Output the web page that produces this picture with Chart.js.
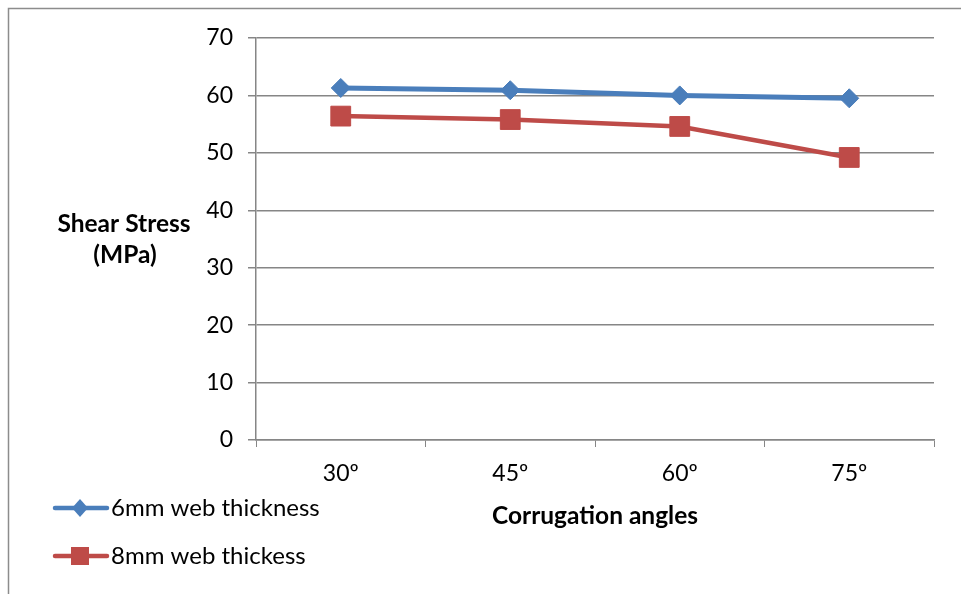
<!DOCTYPE html>
<html>
<head>
<meta charset="utf-8">
<script src="https://cdn.jsdelivr.net/npm/chart.js@4.4.1/dist/chart.umd.min.js"></script>
<style>
  body { margin: 0; background: #fff; }
  canvas { display: block; }
</style>
</head>
<body>
<canvas id="shear_chart" width="961" height="594"></canvas>
<script>
const angles = ["30º", "45º", "60º", "75º"];
const web_6mm = [61.3, 60.9, 60.0, 59.5];
const web_8mm = [56.4, 55.8, 54.6, 49.2];
const series_names = ["6mm web thickness", "8mm web thickess"];
const y_title = ["Shear Stress", "(MPa)"];
const x_title = "Corrugation angles";

const FONT = "Lato";
const GRID = '#868686';

// white background plus the outer frame line
const framePlugin = {
    id: 'frame',
    beforeDraw: (chart) => {
        const {ctx} = chart;
        ctx.save();
        ctx.fillStyle = '#ffffff';
        ctx.fillRect(0, 0, chart.width, chart.height);
        ctx.strokeStyle = '#8c8c8c';
        ctx.lineWidth = 1.5;
        ctx.strokeRect(8.5, 8.5, 1200, 1200);
        ctx.restore();
    }
};

// horizontal y title and stacked legend, like the excel original
const sidePlugin = {
    id: 'sideText',
    afterDraw: (chart) => {
        const {ctx} = chart;
        ctx.save();
        ctx.fillStyle = '#000';
        ctx.textAlign = 'center';
        ctx.textBaseline = 'middle';
        ctx.font = "bold 24.5px " + FONT;
        ctx.fillText(y_title[0], 124, 224);
        ctx.fillText(y_title[1], 125, 255);

        const rows = [508, 556];
        chart.data.datasets.forEach((ds, i) => {
            const y = rows[i];
            ctx.strokeStyle = ds.borderColor;
            ctx.fillStyle = ds.borderColor;
            ctx.lineWidth = 4.5;
            ctx.lineCap = 'round';
            ctx.beginPath();
            ctx.moveTo(55, y);
            ctx.lineTo(107, y);
            ctx.stroke();
            ctx.beginPath();
            if (ds.pointStyle === 'rectRot') {
                ctx.moveTo(80, y - 9);
                ctx.lineTo(88, y);
                ctx.lineTo(80, y + 9);
                ctx.lineTo(72, y);
                ctx.closePath();
            } else {
                ctx.rect(71, y - 9, 18, 18);
            }
            ctx.fill();
            ctx.fillStyle = '#000';
            ctx.textAlign = 'left';
            ctx.font = "24px " + FONT;
            ctx.fillText(ds.label, 111, y);
        });
        ctx.restore();
    }
};

const shear_chart = new Chart(document.getElementById('shear_chart').getContext('2d'), {
    type: 'line',
    data: {
        labels: angles,
        datasets: [
            {
                label: series_names[0],
                data: web_6mm,
                borderColor: '#4a7ebb',
                backgroundColor: '#4a7ebb',
                borderWidth: 5,
                pointStyle: 'rectRot',
                pointRadius: 9.5,
                pointBorderWidth: 1,
                tension: 0
            },
            {
                label: series_names[1],
                data: web_8mm,
                borderColor: '#be4b48',
                backgroundColor: '#be4b48',
                borderWidth: 4.5,
                pointStyle: 'rect',
                pointRadius: 14,
                pointBorderWidth: 1,
                tension: 0
            }
        ]
    },
    options: {
        responsive: false,
        animation: false,
        layout: {
            padding: {left: 0, right: 27, top: 38, bottom: 0}
        },
        scales: {
            x: {
                offset: true,
                afterFit: (s) => { s.height = 154; },
                grid: {
                    offset: true,
                    drawOnChartArea: false,
                    drawTicks: true,
                    tickLength: 7,
                    color: GRID
                },
                border: {color: GRID, width: 1.5},
                ticks: {
                    padding: 13,
                    color: '#000',
                    font: {size: 23, family: FONT}
                },
                title: {
                    display: true,
                    text: x_title,
                    color: '#000',
                    padding: {top: 0, bottom: 63},
                    font: {size: 24.5, weight: 'bold', family: FONT}
                }
            },
            y: {
                min: 0,
                max: 70,
                afterFit: (s) => { s.width = 256; },
                grid: {
                    color: GRID,
                    lineWidth: 1.5,
                    drawTicks: true,
                    tickLength: 8
                },
                border: {color: GRID, width: 1.5},
                ticks: {
                    stepSize: 10,
                    padding: 15,
                    color: '#000',
                    font: {size: 23, family: FONT}
                }
            }
        },
        plugins: {
            legend: {display: false},
            tooltip: {enabled: false}
        }
    },
    plugins: [framePlugin, sidePlugin]
});
</script>
</body>
</html>
